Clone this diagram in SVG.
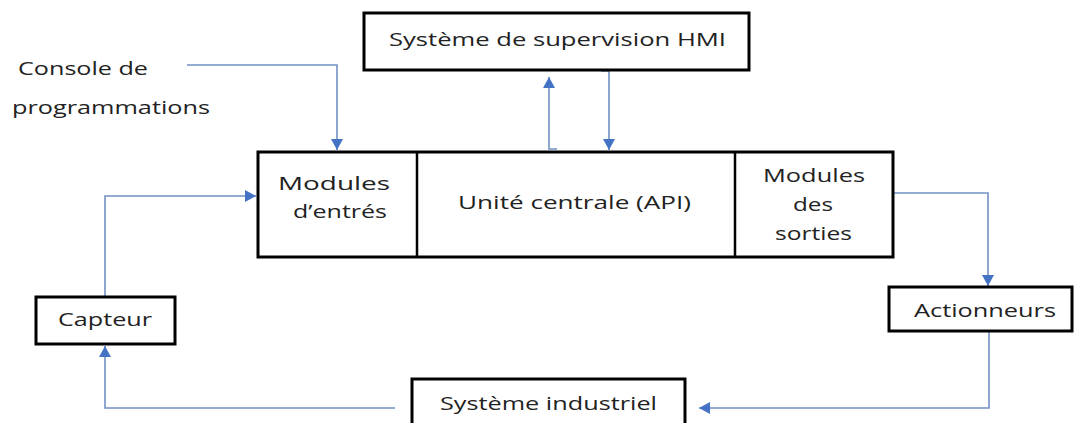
<svg xmlns="http://www.w3.org/2000/svg" width="1074" height="423" viewBox="0 0 1074 423">
  <style>
    .box { fill: #ffffff; stroke: #000000; stroke-width: 3; }
    .div { stroke: #000000; stroke-width: 2.5; fill: none; }
    .lbl { font-family: "Open Sans", "Liberation Sans", sans-serif; font-size: 19px; fill: #222222; }
    .wire { fill: none; stroke: #7391c4; stroke-width: 1.6; marker-end: url(#head); }
  </style>
  <defs>
    <marker id="head" markerUnits="userSpaceOnUse" markerWidth="11" markerHeight="12" viewBox="0 0 11 12" refX="11" refY="6" orient="auto">
      <path d="M0,0 L11,6 L0,12 Z" fill="#4472c4"/>
    </marker>
  </defs>
  <rect width="1074" height="423" fill="#ffffff"/>

  <!-- connectors -->
  <g id="connectors">
    <path class="wire" d="M187,65 H337 V150"/>
    <path class="wire" d="M557,149 H549 V77"/>
    <path class="wire" d="M601,71 H609 V150"/>
    <path class="wire" d="M105,296 V196 H256"/>
    <path class="wire" d="M395,408 H105 V346"/>
    <path class="wire" d="M893,193 H988 V286"/>
    <path class="wire" d="M989,331 V408 H699"/>
  </g>

  <!-- programming console label -->
  <g id="console">
    <text class="lbl" x="18" y="75" textLength="130" lengthAdjust="spacingAndGlyphs">Console de</text>
    <text class="lbl" x="12" y="114" textLength="198" lengthAdjust="spacingAndGlyphs">programmations</text>
  </g>

  <!-- HMI supervision -->
  <g id="hmi">
    <rect class="box" x="364" y="13" width="385" height="57"/>
    <text class="lbl" x="389" y="46" textLength="337" lengthAdjust="spacingAndGlyphs">Système de supervision HMI</text>
  </g>

  <!-- PLC: inputs / CPU / outputs -->
  <g id="plc">
    <rect class="box" x="258" y="152" width="635" height="105"/>
    <line class="div" x1="417" y1="152" x2="417" y2="257"/>
    <line class="div" x1="735" y1="152" x2="735" y2="257"/>
  </g>
  <g id="inputs">
    <text class="lbl" x="278" y="190" textLength="112" lengthAdjust="spacingAndGlyphs">Modules</text>
    <text class="lbl" x="293" y="218" textLength="94" lengthAdjust="spacingAndGlyphs">d’entrés</text>
  </g>
  <g id="cpu">
    <text class="lbl" x="458" y="209" textLength="233" lengthAdjust="spacingAndGlyphs">Unité centrale (API)</text>
  </g>
  <g id="outputs">
    <text class="lbl" x="763" y="182" textLength="102" lengthAdjust="spacingAndGlyphs">Modules</text>
    <text class="lbl" x="793" y="211" textLength="40" lengthAdjust="spacingAndGlyphs">des</text>
    <text class="lbl" x="775" y="240" textLength="77" lengthAdjust="spacingAndGlyphs">sorties</text>
  </g>

  <!-- sensor -->
  <g id="capteur">
    <rect class="box" x="36" y="297" width="139" height="47"/>
    <text class="lbl" x="58" y="326" textLength="94" lengthAdjust="spacingAndGlyphs">Capteur</text>
  </g>

  <!-- actuators -->
  <g id="actionneurs">
    <rect class="box" x="889" y="287" width="183" height="44"/>
    <text class="lbl" x="914" y="317" textLength="142" lengthAdjust="spacingAndGlyphs">Actionneurs</text>
  </g>

  <!-- industrial process -->
  <g id="systeme-industriel">
    <rect class="box" x="412" y="379" width="273" height="60"/>
    <text class="lbl" x="440" y="410" textLength="217" lengthAdjust="spacingAndGlyphs">Système industriel</text>
  </g>
</svg>
